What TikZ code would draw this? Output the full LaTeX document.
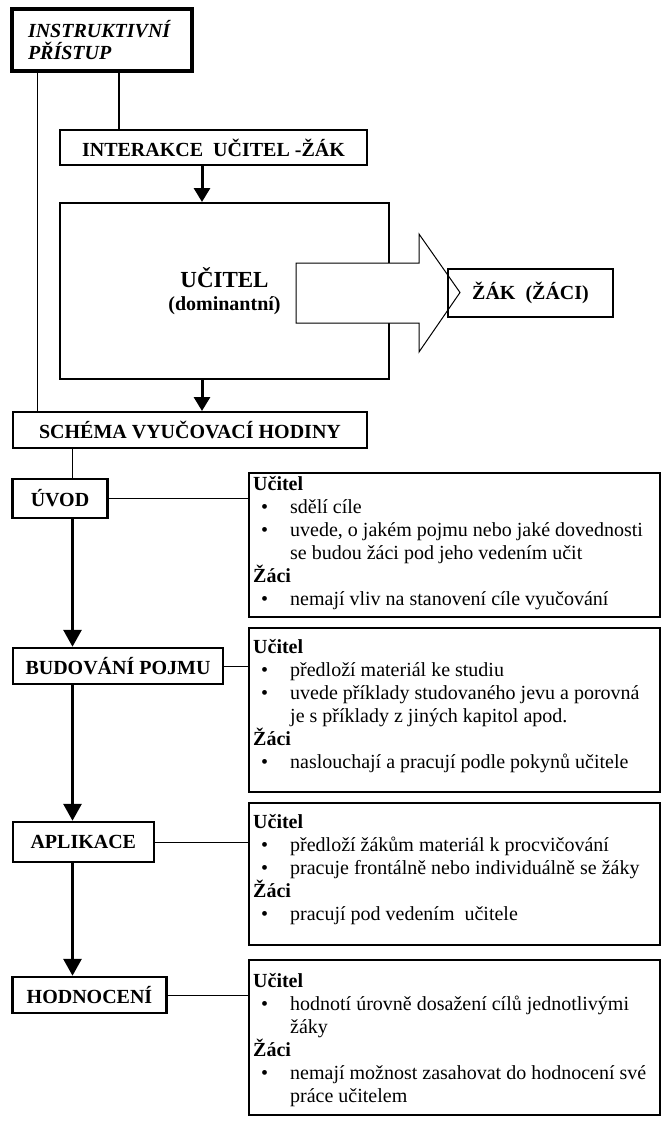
\documentclass[tikz,border=0pt]{standalone}
\usepackage{fontspec}
\setmainfont{Liberation Serif}
\usetikzlibrary{arrows.meta}

\newcommand\bod[1]{\makebox[37pt][l]{\hspace{8pt}\textbullet}#1}
\newcommand\dal[1]{\hspace*{37pt}#1}

\begin{document}
\begin{tikzpicture}[x=1pt, y=-1pt, line join=miter, font=\fontsize{20}{23}\selectfont,
ramec/.style={draw, line width=2pt, inner sep=0pt, font=\fontsize{20}{23}\selectfont\bfseries},
krok/.style={ramec, line width=2.5pt},
popis/.style={draw, line width=1.1pt, minimum width=411pt, inner sep=0pt},
obsah/.style={inner sep=0pt, anchor=base west},
sipka/.style={line width=3pt, -{Triangle[width=16pt, length=14pt]}},
kroksipka/.style={line width=3pt, -{Triangle[width=18pt, length=17pt]}},
tenka/.style={line width=1pt}]
\useasboundingbox (0,0) rectangle (661,1124);
%Horní část
\path (119,0) coordinate(osaA)
(37,0) coordinate(osaB)
(202,0) coordinate(osaC)
(72.5,0) coordinate(osaD)
;
\node[ramec, line width=3.5pt, minimum width=180pt, minimum height=62pt, font=\fontsize{20}{22}\selectfont\bfseries\itshape, align=left, text width=148pt] (instr) at (102,40) {INSTRUKTIVNÍ\\PŘÍSTUP};
\node[ramec, minimum width=307pt, minimum height=35pt] (interakce) at (213.5,147.5) {INTERAKCE~~UČITEL -ŽÁK};
\node[ramec, minimum width=329pt, minimum height=176pt, align=center] (ucitel) at (224.5,291) {{\fontsize{23}{24}\selectfont UČITEL}\\(dominantní)};
\path (296,263) coordinate(P1)
(419,263) coordinate(P2)
(419,234) coordinate(P3)
(460,292.5) coordinate(P4)
(419,352) coordinate(P5)
(419,323) coordinate(P6)
(296,323) coordinate(P7)
;
\draw[fill=white, line width=1pt] (P1)--(P2)--(P3)--(P4)--(P5)--(P6)--(P7)--cycle;
\node[ramec, line width=1.2pt, minimum width=165pt, minimum height=48pt] (zak) at (530.5,293) {ŽÁK~~(ŽÁCI)};
\node[ramec, minimum width=354pt, minimum height=36pt] (schema) at (190,430) {SCHÉMA VYUČOVACÍ HODINY};
\draw[line width=2.7pt] (instr.south -| osaA) -- (interakce.north -| osaA);
\draw[tenka] (instr.south -| osaB) -- (schema.north -| osaB);
\draw[sipka] (interakce.south -| osaC) -- (ucitel.north -| osaC);
\draw[sipka] (ucitel.south -| osaC) -- (schema.north -| osaC);
%Kroky hodiny
\node[krok, minimum width=95pt, minimum height=39pt] (uvod) at (60,498.5) {ÚVOD};
\node[krok, minimum width=210pt, minimum height=36pt] (budovani) at (118,666) {BUDOVÁNÍ POJMU};
\node[krok, minimum width=141pt, minimum height=40pt] (aplikace) at (83.3,842) {APLIKACE};
\node[krok, minimum width=154pt, minimum height=36pt] (hodnoceni) at (89.5,995) {HODNOCENÍ};
\node[popis, minimum height=144pt] (b1) at (454.5,545) {};
\node[popis, minimum height=164pt] (b2) at (454.5,710) {};
\node[popis, minimum height=142pt] (b3) at (454.5,874) {};
\node[popis, minimum height=155pt] (b4) at (454.5,1037.5) {};
\node[obsah] (t1) at (253,490) {\parbox[t]{404pt}{\textbf{Učitel}\\
\bod{sdělí cíle}\\
\bod{uvede, o jakém pojmu nebo jaké dovednosti}\\
\dal{se budou žáci pod jeho vedením učit}\\
\textbf{Žáci}\\
\bod{nemají vliv na stanovení cíle vyučování}}};
\node[obsah] (t2) at (253,653) {\parbox[t]{404pt}{\textbf{Učitel}\\
\bod{předloží materiál ke studiu}\\
\bod{uvede příklady studovaného jevu a porovná}\\
\dal{je s příklady z jiných kapitol apod.}\\
\textbf{Žáci}\\
\bod{naslouchají a pracují podle pokynů učitele}}};
\node[obsah] (t3) at (253,828) {\parbox[t]{404pt}{\textbf{Učitel}\\
\bod{předloží žákům materiál k procvičování}\\
\bod{pracuje frontálně nebo individuálně se žáky}\\
\textbf{Žáci}\\
\bod{pracují pod vedením~~učitele}}};
\node[obsah] (t4) at (253,987) {\parbox[t]{404pt}{\textbf{Učitel}\\
\bod{hodnotí úrovně dosažení cílů jednotlivými}\\
\dal{žáky}\\
\textbf{Žáci}\\
\bod{nemají možnost zasahovat do hodnocení své}\\
\dal{práce učitelem}}};
\draw[tenka] (schema.south -| osaD) -- (uvod.north -| osaD);
\foreach \a/\b in {uvod/budovani, budovani/aplikace, aplikace/hodnoceni}
\draw[kroksipka] (\a.south -| osaD) -- (\b.north -| osaD);
\foreach \a/\b in {uvod/b1, budovani/b2, aplikace/b3, hodnoceni/b4}
\draw[tenka] (\a.east) -- (\a.east -| \b.west);
\end{tikzpicture}
\end{document}
